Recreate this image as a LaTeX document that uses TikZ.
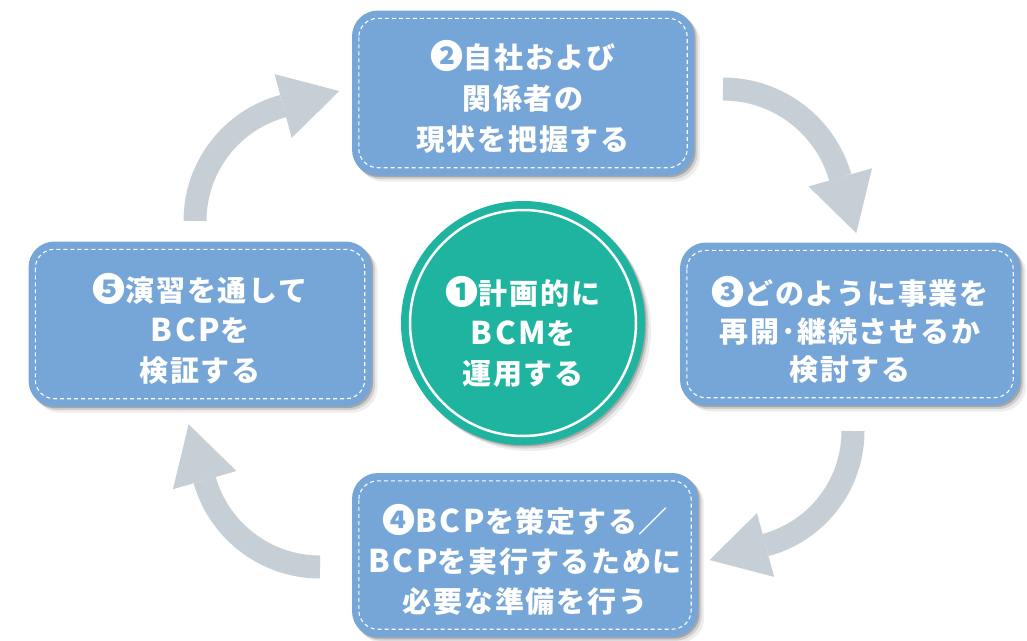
\documentclass[tikz,border=0pt]{standalone}
\usepackage{fontspec}
\newfontfamily\jp{Noto Sans CJK JP}[LetterSpace=6]
\newfontfamily\jplat{Noto Sans CJK JP}[LetterSpace=9, Scale=1.08]
\usetikzlibrary{backgrounds,calc}
\definecolor{boxblue}{HTML}{76A5D7}
\definecolor{circteal}{HTML}{1FB4A0}
\definecolor{arrowgray}{HTML}{C6CFD5}
\newcommand{\lat}[1]{{\jplat\bfseries #1}}
\newcommand{\cnum}[1]{{\fontsize{33}{40}\selectfont #1}}
\tikzset{
  stage/.style={rounded corners=26pt, fill=boxblue, minimum width=342pt, minimum height=165pt, inner sep=0pt},
  label/.style={text=white, align=center, inner sep=0pt, font=\jp\bfseries\fontsize{29}{40}\selectfont},
  stitch/.style={draw=white, dash pattern=on 4pt off 3pt, line width=1.1pt, rounded corners=19pt},
  hub/.style={circle, fill=circteal, minimum size=244pt, inner sep=0pt},
  cyc/.style={draw=arrowgray, line width=23pt},
  cychead/.style={fill=arrowgray},
}
\begin{document}
\begin{tikzpicture}[x=1pt,y=-1pt]
\useasboundingbox (0,0) rectangle (1027,640);
% shapes
\node[stage] (s2) at (523,93) {};
\node[stage, minimum width=340pt, minimum height=163pt] (s3) at (850,324) {};
\node[stage, minimum width=346pt, minimum height=164pt] (s4) at (525,555) {};
\node[stage, minimum width=343pt, minimum height=165pt] (s5) at (200,324) {};
\node[hub] (c1) at (523,323) {};
\draw[white, line width=2.5pt] (c1.center) circle[radius=113];
\foreach \n in {s2,s3,s4,s5}{
  \draw[stitch] ([shift={(7,8)}]\n.north west) rectangle ([shift={(-7,-8)}]\n.south east);
}
% texts
\node[label, font=\jp\bfseries\fontsize{29}{41}\selectfont] (t2) at ([yshift=-4pt]s2.center) {\cnum{❷}自社および\\関係者の\\現状を把握する};
\node[label, font=\jp\bfseries\fontsize{29}{38}\selectfont] (t3) at ([yshift=-6pt]s3.center) {\cnum{❸}どのように事業を\\再開･継続させるか\\検討する};
\node[label] (t4) at ([yshift=-5pt]s4.center) {\cnum{❹}\lat{BCP}を策定する／\\\lat{BCP}を実行するために\\必要な準備を行う};
\node[label] (t5) at ([yshift=-5pt]s5.center) {\cnum{❺}演習を通して\\\lat{BCP}を\\検証する};
\node[label] (t1) at ([yshift=-9pt]c1.center) {\cnum{❶}計画的に\\\lat{BCM}を\\運用する};
% cycle arrows
\coordinate (o1) at (314,221);
\draw[cyc] ($(o1)+(180:119)$) arc[start angle=180, end angle=255, radius=119];
\fill[cychead] ($(o1)+(255:86)$) -- ($(o1)+(255:152)$) -- ($(o1)+(255:119)+(345:58)$) -- cycle;
\coordinate (o2) at (723,211);
\draw[cyc] ($(o2)+(-90:122)$) arc[start angle=-90, end angle=-16, radius=122];
\fill[cychead] ($(o2)+(-16:89)$) -- ($(o2)+(-16:155)$) -- ($(o2)+(-16:122)+(74:58)$) -- cycle;
\coordinate (o3) at (735,431);
\draw[cyc] ($(o3)+(0:118)$) arc[start angle=0, end angle=75, radius=118];
\fill[cychead] ($(o3)+(75:85)$) -- ($(o3)+(75:151)$) -- ($(o3)+(75:118)+(165:58)$) -- cycle;
\coordinate (o4) at (320,447);
\draw[cyc] ($(o4)+(90:120)$) arc[start angle=90, end angle=164, radius=120];
\fill[cychead] ($(o4)+(164:87)$) -- ($(o4)+(164:153)$) -- ($(o4)+(164:120)+(254:58)$) -- cycle;
% background and shadows
\begin{pgfonlayer}{background}
\fill[white] (0,0) rectangle (1027,640);
\foreach \d/\op in {1.5/0.2, 3.5/0.12, 6/0.07}{
  \foreach \n in {s2,s3,s4,s5}{
    \fill[black, opacity=\op, rounded corners=26pt] ([shift={(\d,\d)}]\n.north west) rectangle ([shift={(\d,\d)}]\n.south east);
  }
  \fill[black, opacity=\op] ([shift={(\d,\d)}]c1.center) circle[radius=122];
}
\end{pgfonlayer}
\end{tikzpicture}
\end{document}
